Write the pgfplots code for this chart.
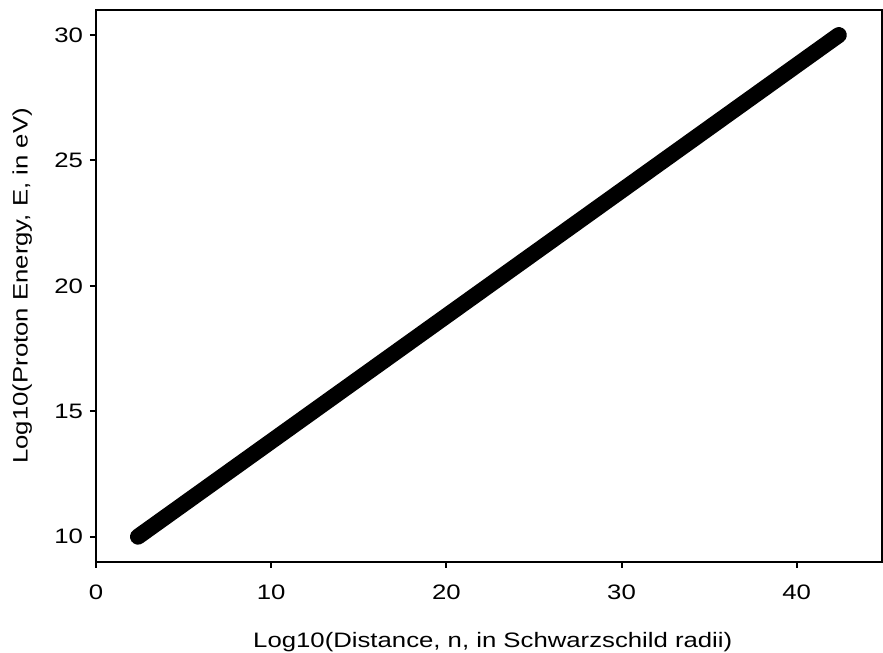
\documentclass[border=0pt]{standalone}
\usepackage{fontspec}
\setmainfont{Liberation Sans}[FakeStretch=1.23]
\usepackage{pgfplots}
\pgfplotsset{compat=1.18}

\begin{document}
\begin{tikzpicture}
\begin{axis}[
    scale only axis,
    width=392.9bp,
    height=275.9bp,
    xmin=0, xmax=44.85,
    ymin=9, ymax=31,
    xtick={0,10,20,30,40},
    ytick={10,15,20,25,30},
    xtick pos=left, ytick pos=left,
    tick align=outside,
    major tick length=3bp,
    every tick/.style={black, line width=1bp},
    axis line style={line width=1bp},
    /pgf/number format/assume math mode=true,
    tick label style={font=\fontsize{10.5}{12}\selectfont},
    xticklabel style={yshift=-5bp},
    label style={font=\fontsize{10.5}{12}\selectfont},
    xlabel={Log10(Distance, n, in Schwarzschild radii)},
    ylabel={Log10(Proton Energy, E, in eV)},
    xlabel style={at={(axis description cs:0.505,-0.146)}, anchor=center},
    ylabel style={at={(axis description cs:-0.094,0.5)}, anchor=center},
]
% log E grows as half of log n
\addplot[black, line width=8bp, line cap=round] coordinates {
    (2.4,10) (12.4,15) (22.4,20) (32.4,25) (42.4,30)
};
\end{axis}
\pgfresetboundingbox
\path[use as bounding box] ([shift={(-48bp,-45.15bp)}]current axis.south west)
    rectangle ([shift={(0.65bp,5bp)}]current axis.north east);
\end{tikzpicture}
\end{document}
